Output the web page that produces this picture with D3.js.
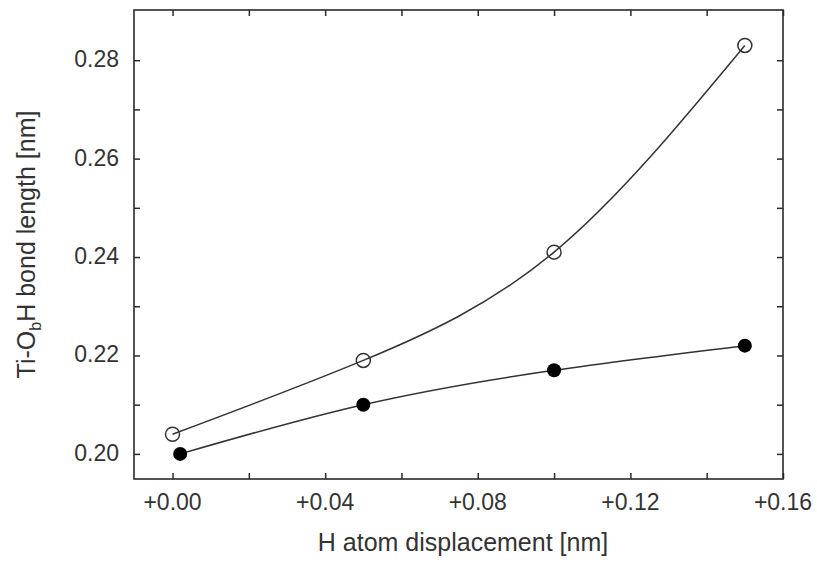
<!DOCTYPE html>
<html>
<head>
<meta charset="utf-8">
<script src="https://cdn.jsdelivr.net/npm/d3@7"></script>
<style>
  body { margin: 0; background: #fff; }
  text { font-family: "Liberation Sans", Arial, sans-serif; fill: #333; }
</style>
</head>
<body>
<div id="chart"></div>
<script>
// data
const openX = [0.00, 0.05, 0.10, 0.15];
const openY = [0.204, 0.219, 0.241, 0.283];
const filledX = [0.002, 0.05, 0.10, 0.15];
const filledY = [0.200, 0.210, 0.217, 0.222];

const xTicks = [0.00, 0.04, 0.08, 0.12, 0.16];
const xMinor = [0.00, 0.02, 0.04, 0.06, 0.08, 0.10, 0.12, 0.14, 0.16];
const yTicks = [0.20, 0.22, 0.24, 0.26, 0.28];
const yMinor = [0.20, 0.21, 0.22, 0.23, 0.24, 0.25, 0.26, 0.27, 0.28];

const width = 817, height = 565;
const plotL = 134, plotR = 783, plotT = 10, plotB = 479;

const svg = d3.select("#chart").append("svg")
    .attr("width", width)
    .attr("height", height);

const x = d3.scaleLinear().domain([-0.0101, 0.16]).range([plotL, plotR]);
const y = d3.scaleLinear().domain([0.1949, 0.2902]).range([plotB, plotT]);

const ink = "#2a2a2a";
const tickLen = 6;

// ticks on all four sides, pointing inward
svg.append("g").attr("transform", `translate(0,${plotB})`)
    .call(d3.axisBottom(x).tickValues(xMinor).tickSize(-tickLen).tickFormat(""));
svg.append("g").attr("transform", `translate(0,${plotT})`)
    .call(d3.axisTop(x).tickValues(xMinor).tickSize(-tickLen).tickFormat(""));
svg.append("g").attr("transform", `translate(${plotL},0)`)
    .call(d3.axisLeft(y).tickValues(yMinor).tickSize(-tickLen).tickFormat(""));
svg.append("g").attr("transform", `translate(${plotR},0)`)
    .call(d3.axisRight(y).tickValues(yMinor).tickSize(-tickLen).tickFormat(""));

svg.selectAll(".domain").remove();
svg.selectAll(".tick line").attr("stroke", ink).attr("stroke-width", 1.5);

// frame
svg.append("rect")
    .attr("x", plotL).attr("y", plotT)
    .attr("width", plotR - plotL).attr("height", plotB - plotT)
    .attr("fill", "none")
    .attr("stroke", ink)
    .attr("stroke-width", 1.6);

// tick labels
svg.selectAll(".xlab")
    .data(xTicks)
    .enter()
    .append("text")
    .attr("x", d => x(d))
    .attr("y", 510)
    .attr("text-anchor", "middle")
    .style("font-size", "23px")
    .text(d => "+" + d3.format(".2f")(d));

svg.selectAll(".ylab")
    .data(yTicks)
    .enter()
    .append("text")
    .attr("x", 119)
    .attr("y", d => y(d) + 7)
    .attr("text-anchor", "end")
    .style("font-size", "23px")
    .text(d => d3.format(".2f")(d));

// axis titles
svg.append("text")
    .attr("x", 463)
    .attr("y", 551)
    .attr("text-anchor", "middle")
    .style("font-size", "25px")
    .text("H atom displacement [nm]");

const yTitle = svg.append("text")
    .attr("transform", `translate(35,${(plotT + plotB) / 2}) rotate(-90)`)
    .attr("text-anchor", "middle")
    .style("font-size", "25px");
yTitle.append("tspan").text("Ti-O");
yTitle.append("tspan").attr("dy", 6).style("font-size", "16px").text("b");
yTitle.append("tspan").attr("dy", -6).text("H bond length [nm]");

// curves
const line = d3.line()
    .x(d => x(d[0]))
    .y(d => y(d[1]))
    .curve(d3.curveNatural);

const openPts = openX.map((v, i) => [v, openY[i]]);
const filledPts = filledX.map((v, i) => [v, filledY[i]]);

[openPts, filledPts].forEach(pts => {
    svg.append("path")
        .datum(pts)
        .attr("d", line)
        .attr("fill", "none")
        .attr("stroke", "#333")
        .attr("stroke-width", 1.5);
});

svg.selectAll(".open")
    .data(openPts)
    .enter()
    .append("circle")
    .attr("cx", d => x(d[0]))
    .attr("cy", d => y(d[1]))
    .attr("r", 7)
    .attr("fill", "none")
    .attr("stroke", "#333")
    .attr("stroke-width", 1.5);

svg.selectAll(".filled")
    .data(filledPts)
    .enter()
    .append("circle")
    .attr("cx", d => x(d[0]))
    .attr("cy", d => y(d[1]))
    .attr("r", 7)
    .attr("fill", "#000");
</script>
</body>
</html>
